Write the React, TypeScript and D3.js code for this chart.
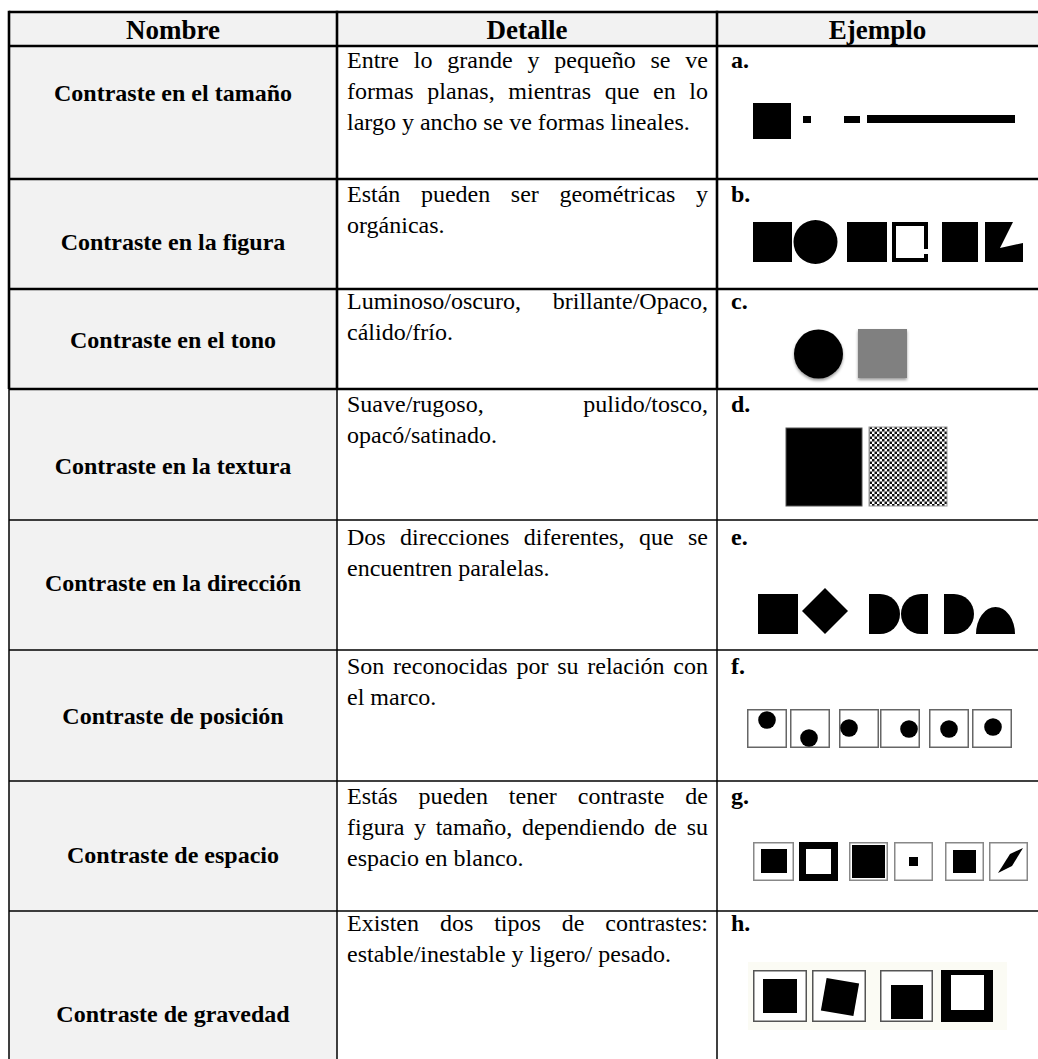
import { cumsum, path } from 'd3'
import { useMemo } from 'react'

const headers = ['Nombre', 'Detalle', 'Ejemplo']

const names = [
  'Contraste en el tamaño',
  'Contraste en la figura',
  'Contraste en el tono',
  'Contraste en la textura',
  'Contraste en la dirección',
  'Contraste de posición',
  'Contraste de espacio',
  'Contraste de gravedad',
]

const details = [
  ['Entre lo grande y pequeño se ve', 'formas planas, mientras que en lo', 'largo y ancho se ve formas lineales.'],
  ['Están pueden ser geométricas y', 'orgánicas.'],
  ['Luminoso/oscuro, brillante/Opaco,', 'cálido/frío.'],
  ['Suave/rugoso, pulido/tosco,', 'opacó/satinado.'],
  ['Dos direcciones diferentes, que se', 'encuentren paralelas.'],
  ['Son reconocidas por su relación con', 'el marco.'],
  ['Estás pueden tener contraste de', 'figura y tamaño, dependiendo de su', 'espacio en blanco.'],
  ['Existen dos tipos de contrastes:', 'estable/inestable y ligero/ pesado.'],
]

const labels = ['a.', 'b.', 'c.', 'd.', 'e.', 'f.', 'g.', 'h.']

// layout
const width = 1038
const height = 1059
const tableTop = 12
const colEdges = [9, 337, 717, 1040]
const rowHeights = [34, 133, 110, 100, 131, 130, 131, 130, 170]
const thickUntil = 4 // horizontal lines 0..4 are heavy
const nameOffsets = [55, 71, 59, 85, 71, 74, 82, 111]
const detailOffsets = [22, 23, 20, 23, 25, 24, 23, 20]
const lineGap = 31
const textLeft = 347
const textRight = 708
const serif = '"Liberation Serif", "Times New Roman", serif'
const bodySize = 24
const grey = '#f2f2f2'

const ctx = typeof document !== 'undefined' ? document.createElement('canvas').getContext('2d') : null
const measure = (s: string, font: string) => {
  if (!ctx) return s.length * 10
  ctx.font = font
  return ctx.measureText(s).width
}

const JustifiedLine = ({ text, y, justify }: { text: string; y: number; justify: boolean }) => {
  const font = `${bodySize}px ${serif}`
  const words = text.split(' ')
  if (!justify || words.length < 2) {
    return (
      <text x={textLeft} y={y} fontSize={bodySize}>
        {text}
      </text>
    )
  }
  const widths = words.map((w) => measure(w, font))
  const total = widths.reduce((a, b) => a + b, 0)
  const gap = (textRight - textLeft - total) / (words.length - 1)
  let x = textLeft
  return (
    <g>
      {words.map((w, i) => {
        const el = (
          <text key={i} x={x} y={y} fontSize={bodySize}>
            {w}
          </text>
        )
        x += widths[i] + gap
        return el
      })}
    </g>
  )
}

const dShape = (x: number, y: number, w: number, h: number, flip: boolean) => {
  const r = h / 2
  const p = path()
  if (!flip) {
    p.moveTo(x, y)
    p.lineTo(x + w - r, y)
    p.arc(x + w - r, y + r, r, -Math.PI / 2, Math.PI / 2)
    p.lineTo(x, y + h)
  } else {
    p.moveTo(x + w, y)
    p.lineTo(x + r, y)
    p.arc(x + r, y + r, r, -Math.PI / 2, Math.PI / 2, true)
    p.lineTo(x + w, y + h)
  }
  p.closePath()
  return p.toString()
}

const Box = ({ x, y, w, h, stroke = '#777', children }: any) => (
  <g transform={`translate(${x},${y})`}>
    <rect x={0.75} y={0.75} width={w - 1.5} height={h - 1.5} fill="#fff" stroke={stroke} strokeWidth={1.5} />
    {children}
  </g>
)

// example drawings, coordinates relative to the top-left of each "Ejemplo" cell
const examples = [
  () => (
    <g fill="#000">
      <rect x={36} y={57} width={38} height={36} />
      <rect x={86} y={70} width={8} height={7} />
      <rect x={127} y={70} width={16} height={7} />
      <rect x={150} y={69} width={148} height={8} />
    </g>
  ),
  () => (
    <g fill="#000">
      <rect x={36} y={43} width={39} height={40} />
      <circle cx={98.5} cy={63} r={22} />
      <rect x={130} y={43} width={40} height={40} />
      <rect x={177} y={45} width={32} height={36} fill="none" stroke="#000" strokeWidth={4} />
      <rect x={206} y={70} width={6} height={5} fill="#fff" />
      <rect x={225} y={43} width={36} height={40} />
      <polygon points="268,43 296,43 283,69 306,64 306,83 268,83" />
    </g>
  ),
  () => (
    <g filter="url(#soft)">
      <circle cx={101.5} cy={65} r={24.5} fill="#000" />
      <rect x={141} y={40} width={49} height={49} fill="#808080" />
    </g>
  ),
  () => (
    <g>
      <rect x={69} y={39} width={76} height={78} fill="#000" stroke="#555" strokeWidth={1} />
      <rect x={152} y={38} width={78} height={79} fill="url(#checker)" stroke="#999" strokeWidth={1} />
    </g>
  ),
  () => (
    <g fill="#000">
      <rect x={41} y={74} width={40} height={40} />
      <polygon points="108,68 131,91 108,114 85,91" />
      <path d={dShape(152, 74, 31, 40, false)} />
      <path d={dShape(184, 74, 27, 40, true)} />
      <path d={dShape(227, 74, 30, 40, false)} />
      <path d="M259,114 A19.5,27 0 0 1 298,114 Z" />
    </g>
  ),
  () => {
    const xs = [30, 73, 122, 163, 212, 255]
    const dots = [
      [20, 11],
      [19, 29],
      [10, 19],
      [29, 20],
      [20, 20],
      [21, 18],
    ]
    return (
      <g>
        {xs.map((x, i) => (
          <Box key={i} x={x} y={59} w={40} h={39} stroke="#666">
            <circle cx={dots[i][0]} cy={dots[i][1]} r={8.8} fill="#000" />
          </Box>
        ))}
      </g>
    )
  },
  () => (
    <g>
      <Box x={36} y={61} w={41} h={39} stroke="#888">
        <rect x={8} y={7} width={26} height={24} fill="#000" />
      </Box>
      <rect x={82} y={61} width={39} height={39} fill="#000" />
      <rect x={89} y={68} width={25} height={25} fill="#fff" />
      <Box x={132} y={61} w={39} h={39} stroke="#888">
        <rect x={3} y={3} width={33} height={33} fill="#000" />
      </Box>
      <Box x={177} y={61} w={39} h={39} stroke="#888">
        <rect x={15} y={15} width={9} height={9} fill="#000" />
      </Box>
      <Box x={228} y={61} w={39} h={39} stroke="#888">
        <rect x={8} y={8} width={23} height={23} fill="#000" />
      </Box>
      <Box x={272} y={61} w={39} h={39} stroke="#888">
        <polygon points="9,31 21,12 34,6 23,24" fill="#000" />
      </Box>
    </g>
  ),
  () => (
    <g>
      <rect x={31} y={51} width={259} height={68} fill="#fbfbf4" />
      <Box x={36} y={59} w={54} h={52} stroke="#555">
        <rect x={10} y={9} width={34} height={34} fill="#000" />
      </Box>
      <Box x={95} y={59} w={54} h={52} stroke="#555">
        <rect x={-16.5} y={-16.5} width={33} height={33} fill="#000" transform="translate(28,27) rotate(10)" />
      </Box>
      <Box x={163} y={59} w={53} h={52} stroke="#555">
        <rect x={11} y={15} width={32} height={34} fill="#000" />
      </Box>
      <rect x={224} y={59} width={52} height={52} fill="#000" />
      <rect x={234} y={64} width={33} height={35} fill="#fff" />
    </g>
  ),
]

const App = () => {
  const rowEdges = useMemo(() => [tableTop, ...Array.from(cumsum(rowHeights), (v) => v + tableTop)], [])
  const heavyBottom = rowEdges[thickUntil]

  return (
    <div style={{ position: 'absolute', left: 0, top: 0 }}>
      <svg width={width} height={height} viewBox={`0 0 ${width} ${height}`} fontFamily={serif} style={{ display: 'block', background: '#fff' }}>
        <defs>
          <pattern id="checker" width={5} height={5} patternUnits="userSpaceOnUse">
            <rect width={5} height={5} fill="#fff" />
            <rect width={2.5} height={2.5} fill="#111" />
            <rect x={2.5} y={2.5} width={2.5} height={2.5} fill="#111" />
          </pattern>
          <filter id="soft" x="-20%" y="-20%" width="140%" height="150%">
            <feDropShadow dx={0} dy={2} stdDeviation={1.5} floodColor="#000" floodOpacity={0.4} />
          </filter>
        </defs>

        {/* header background */}
        <rect x={colEdges[0]} y={rowEdges[0]} width={colEdges[3] - colEdges[0]} height={rowHeights[0]} fill={grey} />
        {/* name column background */}
        <rect x={colEdges[0]} y={rowEdges[1]} width={colEdges[1] - colEdges[0]} height={height - rowEdges[1]} fill={grey} />

        {headers.map((h, i) => (
          <text
            key={h}
            x={(colEdges[i] + Math.min(colEdges[i + 1], width)) / 2}
            y={rowEdges[0] + 27}
            textAnchor="middle"
            fontSize={27}
            fontWeight="bold"
          >
            {h}
          </text>
        ))}

        {names.map((name, i) => {
          const top = rowEdges[i + 1]
          const lines = details[i]
          const Example = examples[i]
          return (
            <g key={name}>
              <text x={(colEdges[0] + colEdges[1]) / 2} y={top + nameOffsets[i]} textAnchor="middle" fontSize={bodySize} fontWeight="bold">
                {name}
              </text>
              {lines.map((line, j) => (
                <JustifiedLine key={j} text={line} y={top + detailOffsets[i] + j * lineGap} justify={j < lines.length - 1} />
              ))}
              <text x={colEdges[2] + 14} y={top + detailOffsets[i]} fontSize={bodySize} fontWeight="bold">
                {labels[i]}
              </text>
              <g transform={`translate(${colEdges[2]},${top})`}>
                <Example />
              </g>
            </g>
          )
        })}

        {/* horizontal rules */}
        {rowEdges.slice(0, -1).map((y, i) => (
          <line key={`h${i}`} x1={colEdges[0]} x2={width} y1={y} y2={y} stroke="#000" strokeWidth={i <= thickUntil ? 2.6 : 1.5} />
        ))}
        {/* vertical rules */}
        {colEdges.slice(0, 3).map((x) => (
          <g key={`v${x}`}>
            <line x1={x} x2={x} y1={rowEdges[0] - 1.3} y2={heavyBottom} stroke="#000" strokeWidth={2.6} />
            <line x1={x} x2={x} y1={heavyBottom} y2={height} stroke="#000" strokeWidth={1.5} />
          </g>
        ))}
      </svg>
    </div>
  )
}

export default App
